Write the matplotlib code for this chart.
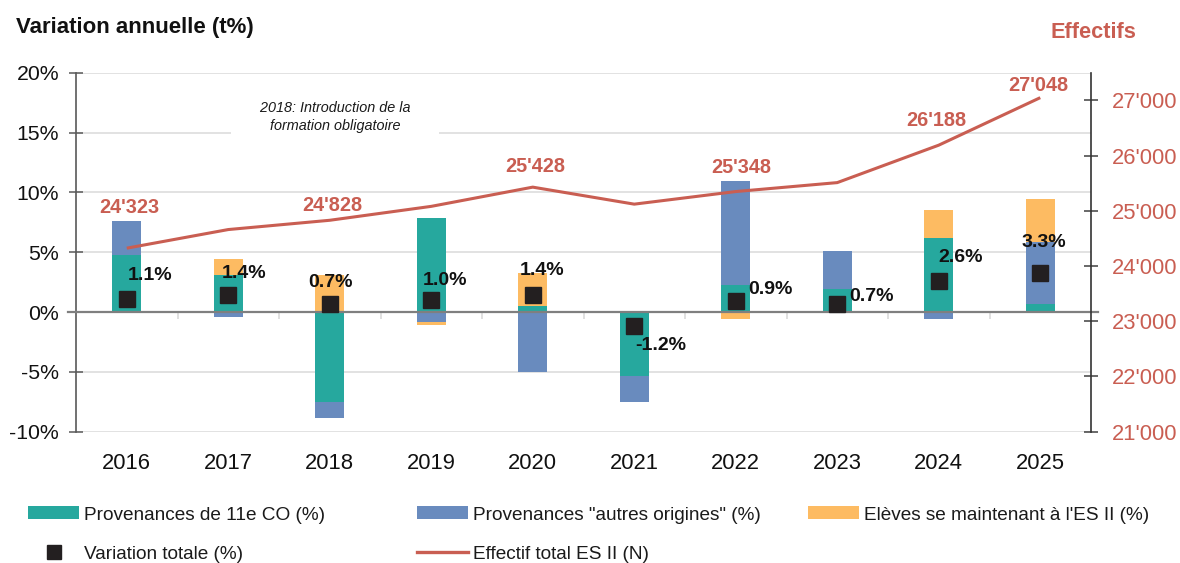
import matplotlib
matplotlib.use('Agg')
import matplotlib.pyplot as plt
import numpy as np
from matplotlib.patches import Patch
from matplotlib.lines import Line2D
from matplotlib.ticker import FuncFormatter, MultipleLocator

plt.rcParams['font.family'] = ['Liberation Sans', 'DejaVu Sans']

# ---------------- data ----------------
years = ['2016', '2017', '2018', '2019', '2020', '2021', '2022', '2023', '2024', '2025']
prov_11co = [4.74, 3.12, -7.53, 7.87, 0.53, -5.33, 2.23, 1.92, 6.19, 0.67]
prov_autres = [2.85, -0.39, -1.34, -0.84, -5.02, -2.15, 8.70, 3.21, -0.59, 5.16]
eleves_maintien = [0.0, 1.31, 3.07, -0.22, 2.73, 0.0, -0.59, 0.0, 2.37, 3.63]
variation_totale = [1.1, 1.4, 0.7, 1.0, 1.4, -1.2, 0.9, 0.7, 2.6, 3.3]
effectif_total = [24323, 24660, 24828, 25080, 25428, 25120, 25348, 25510, 26188, 27048]
effectif_labelled = ['2016', '2018', '2020', '2022', '2024', '2025']

series_names = ['Provenances de 11e CO (%)', 'Provenances "autres origines" (%)',
                "Elèves se maintenant à l'ES II (%)"]
marker_name = 'Variation totale (%)'
line_name = 'Effectif total ES II (N)'

# ---------------- style ----------------
c_teal = '#26A89E'
c_blue = '#698BBE'
c_orange = '#FDBB62'
c_red = '#C95E52'
c_black = '#231F20'
c_grid = '#DADADA'
W, H = 1180, 563
PX = 72 / 100.0  # pixels -> points

# label offsets in pixels (dx, dy up)
tot_offsets = [(23, 23), (16, 22), (1, 21), (14, 20), (9, 25), (27, -19),
               (35, 12), (34, 7), (22, 23), (4, 30)]
eff_offsets = [(3, 41), (3, 15), (3, 21), (6, 24), (-2, 25), (-2, 12)]

fig = plt.figure(figsize=(W / 100, H / 100), dpi=100)
ax_l, ax_r, ax_t, ax_b = 76, 1091, 72.7, 431.7
ax = fig.add_axes([ax_l / W, 1 - ax_b / H, (ax_r - ax_l) / W, (ax_b - ax_t) / H])
ax2 = ax.twinx()

x = np.arange(len(years))
n = len(years)
pos_bottom = np.zeros(n)
neg_bottom = np.zeros(n)
for vals, col in zip([prov_11co, prov_autres, eleves_maintien], [c_teal, c_blue, c_orange]):
    v = np.array(vals, dtype=float)
    bottom = np.where(v >= 0, pos_bottom, neg_bottom)
    ax.bar(x, v, 0.286, bottom=bottom, color=col, zorder=2, linewidth=0)
    pos_bottom += np.clip(v, 0, None)
    neg_bottom += np.clip(v, None, 0)

ax.plot(x, variation_totale, linestyle='none', marker='s', ms=11.3,
        color=c_black, zorder=4)

# zero line and category ticks
ax.axhline(0, xmin=-0.008, xmax=1.007, color='#7F7F7F', lw=1.6, zorder=3, clip_on=False)
ax.vlines(x[:-1] + 0.5, -0.58, 0, color=c_grid, lw=1.2, zorder=1)

ax.set_xlim(-0.5, n - 0.5)
ax.set_ylim(-10, 20)
ax.yaxis.set_major_locator(MultipleLocator(5))
ax.yaxis.set_major_formatter(FuncFormatter(lambda v, p: f"{v:.0f}%"))
ax.grid(axis='y', color=c_grid, lw=1.1, zorder=0)
ax.set_axisbelow(True)
ax.set_xticks(x, years)
ax.tick_params(axis='x', length=0, pad=15.5, labelsize=15.8, labelcolor='#111111')
ax.tick_params(axis='y', direction='inout', length=9.6, width=1.1, color='#595959',
               labelsize=15.3, pad=7.4, labelcolor='#111111')
for s in ['top', 'right', 'bottom']:
    ax.spines[s].set_visible(False)
ax.spines['left'].set_color('#595959')
ax.spines['left'].set_linewidth(1.2)

# right axis line
ax2.plot(x, effectif_total, color=c_red, lw=2.2, zorder=5, solid_capstyle='butt')
ax2.set_ylim(21000, 27500)
ax2.yaxis.set_major_locator(MultipleLocator(1000))
ax2.yaxis.set_major_formatter(FuncFormatter(lambda v, p: f"{v:,.0f}".replace(',', "'")))
ax2.tick_params(axis='y', direction='inout', length=9.6, width=1.1, color='#404040',
                labelsize=15.8, pad=10.3, labelcolor=c_red)
for s in ['top', 'left', 'bottom']:
    ax2.spines[s].set_visible(False)
ax2.spines['right'].set_color('#333333')
ax2.spines['right'].set_linewidth(1.2)

# labels for line
for yr, (dx, dy) in zip(effectif_labelled, eff_offsets):
    i = years.index(yr)
    v = effectif_total[i]
    ax2.annotate(f"{v:,.0f}".replace(',', "'"), xy=(i, v), xytext=(dx * PX, dy * PX),
                 textcoords='offset points', ha='center', va='center',
                 fontsize=14.3, fontweight='bold', color=c_red, zorder=6)

# labels for total variation
for i, (v, (dx, dy)) in enumerate(zip(variation_totale, tot_offsets)):
    ax2.annotate(f"{v:.1f}%", xy=(i, v), xycoords=ax.transData,
                 xytext=(dx * PX, dy * PX), textcoords='offset points',
                 ha='center', va='center', fontsize=14, fontweight='bold',
                 color='#111111', zorder=6)

# annotation
fig.text(335 / W, 1 - 117.2 / H,
         "      2018: Introduction de la      \nformation obligatoire",
         ha='center', va='center', fontsize=10.4, style='italic', color='#1a1a1a',
         linespacing=1.35, zorder=10,
         bbox=dict(boxstyle='square,pad=0.3', facecolor='white', edgecolor='none'))

# titles
fig.text(16 / W, 1 - 28 / H, 'Variation annuelle (t%)', ha='left', va='center',
         fontsize=16, fontweight='bold', color='#111111')
fig.text(1093 / W, 1 - 33 / H, 'Effectifs', ha='center', va='center',
         fontsize=15.7, fontweight='bold', color=c_red)

# legend
leg_items = [
    (Patch(facecolor=c_teal, edgecolor='none'), series_names[0], 28, 515),
    (Patch(facecolor=c_blue, edgecolor='none'), series_names[1], 417, 515),
    (Patch(facecolor=c_orange, edgecolor='none'), series_names[2], 808, 515),
    (Line2D([], [], linestyle='none', marker='s', ms=10, color=c_black), marker_name, 28, 554),
    (Line2D([], [], color=c_red, lw=2.4), line_name, 417, 554),
]
for h, lab, lx, ly in leg_items:
    fig.legend([h], [lab], loc='center left', bbox_to_anchor=(lx / W, 1 - ly / H),
               frameon=False, borderpad=0, borderaxespad=0, fontsize=13.7,
               handlelength=2.7, handleheight=0.67, handletextpad=0.26,
               labelcolor='#1a1a1a')

fig.savefig('out.png', dpi=100)
